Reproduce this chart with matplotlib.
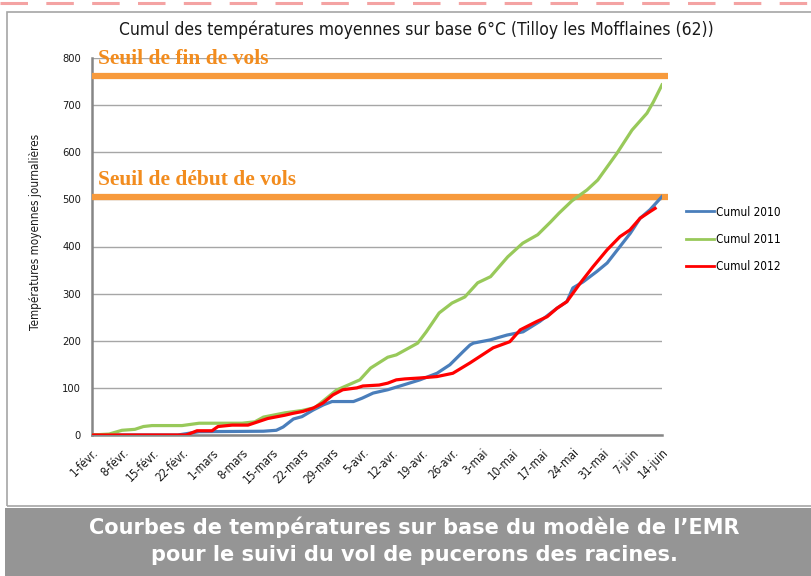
import matplotlib
matplotlib.use("Agg")
import matplotlib.pyplot as plt
from matplotlib.lines import Line2D
from matplotlib.patches import Rectangle

# ---------------- data (days since 1 Feb) ----------------
tick_labels = ["1-févr.", "8-févr.", "15-févr.", "22-févr.", "1-mars", "8-mars",
               "15-mars", "22-mars", "29-mars", "5-avr.", "12-avr.", "19-avr.",
               "26-avr.", "3-mai", "10-mai", "17-mai", "24-mai", "31-mai",
               "7-juin", "14-juin"]
tick_days = [7 * i for i in range(len(tick_labels))]

days_2010 = [0, 20, 25, 40, 43, 44.6, 47, 49, 51.6, 54, 56, 61, 63, 65.6, 69, 72.6,
             76.5, 80.5, 83.5, 86.6, 88.2, 89, 93, 96.8, 100.6, 104.5, 108.5, 110.8,
             112.2, 114.6, 117.8, 120.2, 123.2, 125.6, 127.9, 130.2, 133]
cumul_2010 = [0, 0, 7, 8, 10, 17, 34, 39, 53, 64, 71, 71, 78, 89, 96, 106,
              117, 131, 149, 177, 191, 195, 202, 212, 219, 241, 269, 283,
              312, 325, 347, 365, 400, 428, 460, 478, 506]

days_2011 = [0, 4, 7, 10, 12, 14, 21, 25, 35, 38, 40, 45, 49, 52, 55, 57, 62.5,
             65, 69, 71, 76, 78, 81, 84, 87, 90, 93, 97, 100.5, 104, 107, 109,
             112, 115.5, 118, 122.5, 126, 129.5, 131, 133]
cumul_2011 = [0, 2, 10, 12, 18, 20, 20, 25, 25, 28, 38, 47, 52, 58, 80, 95, 117,
              142, 165, 170, 195, 219, 259, 280, 293, 323, 336, 378, 407, 425,
              452, 471, 497, 520, 541, 598, 647, 683, 707, 743]

days_2012 = [0, 22, 24.5, 28, 29.4, 32.7, 36.4, 38.7, 41, 45, 46.9, 49.2, 51.6,
             53.9, 56.2, 58.5, 61.8, 63.2, 67, 69, 71, 73, 76.5, 80.5, 84.2, 88.2,
             93.6, 97.5, 99.9, 103.8, 106.2, 108.5, 110.8, 113.9, 116.9, 120.2,
             123.2, 125.5, 127.9, 130.2, 131.4]
cumul_2012 = [0, 0, 9, 9, 18, 21, 21, 28, 35, 42, 46, 50, 57, 68, 85, 96, 100,
              104, 106, 110, 117, 119, 121, 124, 131, 153, 185, 198, 223, 241,
              251, 269, 283, 322, 357, 393, 421, 435, 460, 474, 481]

seuil_fin = 762
seuil_debut = 505

series_names = ["Cumul 2010", "Cumul 2011", "Cumul 2012"]
series_colors = ["#4A7EBB", "#98C95A", "#FF0000"]

# ---------------- figure ----------------
W, H = 811, 576
fig = plt.figure(figsize=(W / 100, H / 100), dpi=100)
fig.patch.set_facecolor("white")

def fx(px):
    return px / W

def fy(py):
    return 1 - py / H

# dashed pink line at the top
fig.add_artist(Line2D([0, 1], [fy(3), fy(3)], color="#F4A3A3", lw=2.2,
                      dashes=(9, 6), transform=fig.transFigure))
# chart frame
fig.add_artist(Rectangle((fx(7), fy(506)), 1.0, fy(12) - fy(506),
                         transform=fig.transFigure, fill=False,
                         edgecolor="#A6A6A6", lw=1.2))
# bottom grey band
fig.add_artist(Rectangle((fx(5), 0), 1.0, fy(508), transform=fig.transFigure,
                         facecolor="#959595", edgecolor="none"))
fig.text(fx(414), fy(527), "Courbes de températures sur base du modèle de l\u2019EMR",
         ha="center", va="center", color="white", fontsize=15,
         fontweight="bold", family=["DejaVu Sans"])
fig.text(fx(414), fy(555), "pour le suivi du vol de pucerons des racines.",
         ha="center", va="center", color="white", fontsize=15,
         fontweight="bold", family=["DejaVu Sans"])

narrow = ["DejaVu Sans"]
NS = "condensed"

fig.text(fx(416), fy(30), "Cumul des températures moyennes sur base 6°C (Tilloy les Mofflaines (62))",
         ha="center", va="center", fontsize=12.5, family=narrow, fontstretch=NS,
         color="#1a1a1a")

ax = fig.add_axes([fx(92), fy(435), fx(662) - fx(92), fy(58) - fy(435)])
ax.set_xlim(0, 133)
ax.set_ylim(0, 800)
ax.set_yticks(range(0, 801, 100))
ax.grid(axis="y", color="#A6A6A6", lw=1.0)
ax.set_axisbelow(True)
for s in ["top", "right"]:
    ax.spines[s].set_visible(False)
for s in ["left", "bottom"]:
    ax.spines[s].set_color("#868686")
    ax.spines[s].set_linewidth(1.8)
ax.tick_params(axis="y", length=0, labelsize=8, pad=8, colors="#1a1a1a")
ax.tick_params(axis="x", length=0, labelsize=8.5, pad=8, colors="#1a1a1a")
ax.set_xticks(tick_days)
ax.set_xticklabels(tick_labels, rotation=45, ha="right", rotation_mode="anchor")
for lab in ax.get_xticklabels() + ax.get_yticklabels():
    lab.set_family(narrow)
    lab.set_fontstretch(NS)
ax.set_ylabel("Températures moyennes journalières", fontsize=8.4, family=narrow,
              fontstretch=NS, color="#1a1a1a")
ax.yaxis.set_label_coords((42 - 92) / 570, (435 - 232) / 377)

ax.plot([0, 134.5], [seuil_fin, seuil_fin], color="#F79A3C", lw=4.5,
        solid_capstyle="butt", clip_on=False, zorder=3)
ax.plot([0, 134.5], [seuil_debut, seuil_debut], color="#F79A3C", lw=4.5,
        solid_capstyle="butt", clip_on=False, zorder=3)
serif = ["Liberation Serif", "DejaVu Serif"]
ax.text(1.4, 797, "Seuil de fin de vols", color="#F28C1E", fontsize=15.5,
        fontweight="bold", family=serif, va="center", ha="left", zorder=4)
ax.text(1.4, 541, "Seuil de début de vols", color="#F28C1E", fontsize=15.5,
        fontweight="bold", family=serif, va="center", ha="left", zorder=4)

for d, v, c, n in zip([days_2010, days_2011, days_2012],
                      [cumul_2010, cumul_2011, cumul_2012],
                      series_colors, series_names):
    ax.plot(d, v, color=c, lw=2.3, label=n, zorder=5)

leg = ax.legend(loc="upper left", bbox_to_anchor=(fx(675), fy(195)),
                bbox_transform=fig.transFigure, frameon=False,
                handlelength=2.4, handletextpad=0.2, labelspacing=1.2,
                prop={"family": narrow, "size": 8.5, "stretch": NS})
for l in leg.get_lines():
    l.set_linewidth(2)

fig.savefig("out.png", dpi=100, facecolor="white")
